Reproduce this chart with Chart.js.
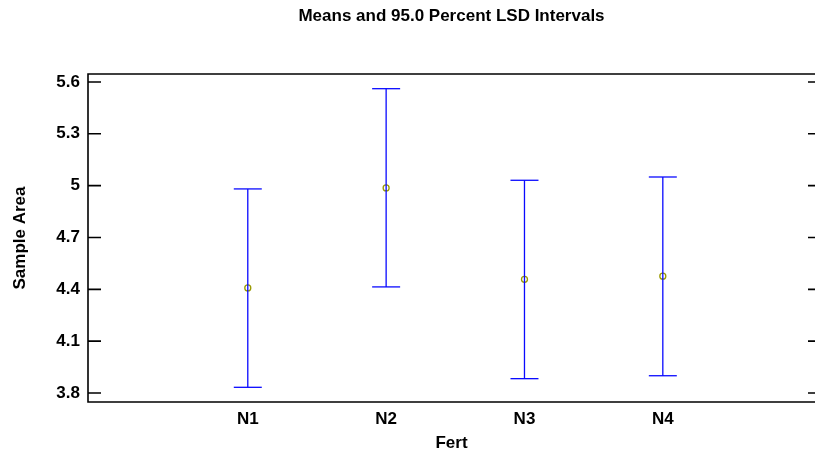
<!DOCTYPE html>
<html>
<head>
<meta charset="utf-8">
<script src="https://cdn.jsdelivr.net/npm/chart.js@4.4.0/dist/chart.umd.min.js"></script>
<style>
html, body { margin: 0; padding: 0; background: #fff; overflow: hidden; }
canvas { display: block; }
</style>
</head>
<body>
<canvas id="lsdChart" width="815" height="454"></canvas>
<script>
// Means and 95% LSD intervals of Sample Area by Fert level
const categories = ['N1', 'N2', 'N3', 'N4'];
const means = [4.408, 4.987, 4.458, 4.476];
const lower = [3.833, 4.414, 3.883, 3.900];
const upper = [4.981, 5.561, 5.031, 5.050];
const yTicks = [3.8, 4.1, 4.4, 4.7, 5, 5.3, 5.6];

const blue = '#0a0aff';
const font = 'Liberation Sans, Arial, sans-serif';

// vertical interval lines, broken by null gaps
const intervalPts = [];
categories.forEach((c, i) => {
    intervalPts.push({x: i + 1, y: lower[i]}, {x: i + 1, y: upper[i]}, {x: i + 1, y: null});
});
const capPts = [];
categories.forEach((c, i) => {
    capPts.push({x: i + 1, y: lower[i]}, {x: i + 1, y: upper[i]});
});
const meanPts = categories.map((c, i) => ({x: i + 1, y: means[i]}));

// frame (right side is cut off by the picture edge) + inward ticks on both sides
const framePlugin = {
    id: 'frame',
    afterDraw(chart) {
        const {ctx, chartArea: a, scales: {y}} = chart;
        ctx.save();
        ctx.strokeStyle = '#000';
        ctx.lineWidth = 1.6;
        ctx.beginPath();
        ctx.moveTo(a.right, a.top); ctx.lineTo(a.left, a.top);
        ctx.lineTo(a.left, a.bottom); ctx.lineTo(a.right, a.bottom);
        yTicks.forEach(v => {
            const py = y.getPixelForValue(v);
            ctx.moveTo(a.left, py); ctx.lineTo(a.left + 13, py);
            ctx.moveTo(a.right - 7, py); ctx.lineTo(a.right, py);
        });
        ctx.stroke();
        ctx.restore();
    }
};

const ctx = document.getElementById('lsdChart').getContext('2d');
const lsdChart = new Chart(ctx, {
    type: 'scatter',
    data: {
        datasets: [
            {
                type: 'line',
                data: intervalPts,
                borderColor: blue,
                borderWidth: 1.3,
                pointRadius: 0,
                spanGaps: false,
                showLine: true
            },
            {
                data: capPts,
                pointStyle: 'line',
                pointRadius: 14,
                borderColor: blue,
                borderWidth: 1.3
            },
            {
                data: meanPts,
                pointStyle: 'circle',
                pointRadius: 3,
                borderColor: '#9a9a00',
                backgroundColor: 'rgba(0,0,0,0)',
                borderWidth: 1.3
            }
        ]
    },
    options: {
        responsive: false,
        animation: false,
        layout: { autoPadding: false, padding: 0 },
        plugins: {
            legend: { display: false },
            tooltip: { enabled: false },
            title: {
                display: true,
                text: 'Means and 95.0 Percent LSD Intervals',
                fullSize: false,
                color: '#000',
                font: { family: font, size: 17, weight: 'bold' },
                padding: { top: 6, bottom: 47.6 }
            }
        },
        scales: {
            x: {
                type: 'linear',
                min: -0.155,
                max: 5.1,
                border: { display: false },
                grid: { display: false, drawTicks: false },
                afterBuildTicks: s => { s.ticks = categories.map((c, i) => ({value: i + 1})); },
                afterFit: s => { s.height = 52; s.paddingLeft = 0; s.paddingRight = 0; },
                ticks: {
                    color: '#000',
                    padding: 7,
                    maxRotation: 0,
                    font: { family: font, size: 17, weight: 'bold' },
                    callback: v => categories[v - 1]
                },
                title: {
                    display: true,
                    text: 'Fert',
                    color: '#000',
                    font: { family: font, size: 17, weight: 'bold' },
                    padding: { top: 2, bottom: 0 }
                }
            },
            y: {
                min: 3.748,
                max: 5.646,
                border: { display: false },
                grid: { display: false, drawTicks: false },
                afterBuildTicks: s => { s.ticks = yTicks.map(v => ({value: v})); },
                afterFit: s => { s.width = 88; s.paddingTop = 0; s.paddingBottom = 0; },
                ticks: {
                    color: '#000',
                    padding: 8,
                    font: { family: font, size: 17, weight: 'bold' },
                    callback: v => String(v)
                },
                title: {
                    display: true,
                    text: 'Sample Area',
                    color: '#000',
                    font: { family: font, size: 17, weight: 'bold' },
                    padding: { top: 10, bottom: 0 }
                }
            }
        }
    },
    plugins: [framePlugin]
});
</script>
</body>
</html>
